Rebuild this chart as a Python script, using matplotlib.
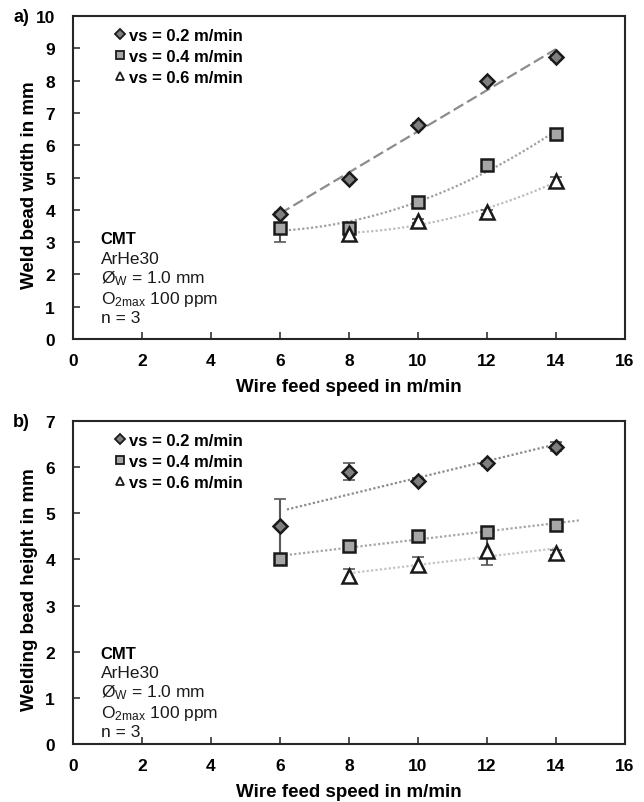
import numpy as np
import matplotlib.pyplot as plt
from matplotlib.lines import Line2D

# wire feed speed in m/min
wfs = [6, 8, 10, 12, 14]
wfs_06 = [8, 10, 12, 14]

# a) weld bead width in mm
width_02 = [3.87, 4.95, 6.63, 7.98, 8.72]
width_02_err = [0.05, 0.05, 0.05, 0.05, 0.08]
width_04 = [3.45, 3.45, 4.24, 5.39, 6.35]
width_04_err = [0.45, 0.05, 0.05, 0.05, 0.08]
width_06 = [3.25, 3.65, 3.93, 4.90]
width_06_err = [0.05, 0.05, 0.05, 0.12]

# b) welding bead height in mm
height_02 = [4.72, 5.90, 5.71, 6.08, 6.44]
height_02_err = [0.60, 0.18, 0.05, 0.05, 0.10]
height_04 = [4.01, 4.30, 4.51, 4.59, 4.75]
height_04_err = [0.05, 0.05, 0.05, 0.05, 0.05]
height_06 = [3.65, 3.89, 4.19, 4.15]
height_06_err = [0.15, 0.17, 0.30, 0.05]

labels = ['vs = 0.2 m/min', 'vs = 0.4 m/min', 'vs = 0.6 m/min']

plt.rcParams['font.family'] = ['Liberation Sans', 'DejaVu Sans']

fig = plt.figure(figsize=(6.44, 8.03), dpi=100)
ax1 = fig.add_axes([0.1134, 0.5766, 0.857, 0.4022])
ax2 = fig.add_axes([0.1134, 0.0722, 0.857, 0.4023])

styles = [
    dict(marker='D', ms=7.5, mfc='#7f7f7f', mec='#1a1a1a'),
    dict(marker='s', ms=9, mfc='#a6a6a6', mec='#1a1a1a'),
    dict(marker='^', ms=9.5, mfc='white', mec='#1a1a1a'),
]


def points(ax, x, y, err, st):
    ax.errorbar(x, y, yerr=err, fmt='none', ecolor='#595959', elinewidth=1.5,
                capsize=4, capthick=1.2, zorder=3)
    ax.plot(x, y, ls='none', mew=1.8, zorder=4, **st)


def trend(ax, x, y, deg, x0, x1, color, ls):
    c = np.polyfit(x, y, deg)
    xx = np.linspace(x0, x1, 100)
    ax.plot(xx, np.polyval(c, xx), color=color, ls=ls, lw=1.6, zorder=2)


# panel a
trend(ax1, wfs, width_02, 1, 6, 14, '#8c8c8c', (0, (5, 2)))
trend(ax1, wfs, width_04, 2, 6, 14, '#a0a0a0', (0, (1, 1)))
trend(ax1, wfs_06, width_06, 2, 8, 14, '#bdbdbd', (0, (1, 1)))
points(ax1, wfs, width_02, width_02_err, styles[0])
points(ax1, wfs, width_04, width_04_err, styles[1])
points(ax1, wfs_06, width_06, width_06_err, styles[2])

# panel b
trend(ax2, wfs, height_02, 1, 6.2, 14.2, '#8c8c8c', (0, (1, 1)))
trend(ax2, wfs, height_04, 1, 5.9, 14.7, '#a6a6a6', (0, (1, 1)))
trend(ax2, wfs_06, height_06, 1, 8, 14.1, '#c4c4c4', (0, (1, 1)))
points(ax2, wfs, height_02, height_02_err, styles[0])
points(ax2, wfs, height_04, height_04_err, styles[1])
points(ax2, wfs_06, height_06, height_06_err, styles[2])

ax1.set_ylim(0, 10)
ax1.set_yticks(range(0, 11))
ax2.set_ylim(0, 7)
ax2.set_yticks(range(0, 8))
ax1.set_ylabel('Weld bead width in mm', fontsize=13.5, fontweight='bold')
ax2.set_ylabel('Welding bead height in mm', fontsize=13.5, fontweight='bold')

for ax, tag, ytag in ((ax1, 'a)', 17), (ax2, 'b)', 423)):
    ax.set_xlim(0, 16)
    ax.set_xticks(range(0, 17, 2))
    ax.set_xlabel('Wire feed speed in m/min', fontsize=13.5, fontweight='bold', labelpad=7)
    ax.yaxis.set_label_coords(-0.063, 0.48)
    ax.tick_params(direction='in', length=5, width=1.2, color='#333333')
    ax.tick_params(axis='y', pad=13)
    ax.tick_params(axis='x', pad=10)
    for lab in ax.get_xticklabels() + ax.get_yticklabels():
        lab.set_fontweight('bold')
        lab.set_fontsize(12.5)
    for sp in ax.spines.values():
        sp.set_linewidth(1.5)
        sp.set_color('#262626')
    fig.text(13 / 644, 1 - ytag / 803, tag, fontsize=13, fontweight='bold',
             ha='left', va='center')

    handles = [Line2D([], [], ls='none', marker=st['marker'], ms=st['ms'] * 0.65,
                      mfc=st['mfc'], mec=st['mec'], mew=1.3) for st in styles]
    ax.legend(handles, labels, loc='upper left', bbox_to_anchor=(0.06, 0.995),
              frameon=False, prop=dict(size=12, weight='bold'),
              handlelength=0.5, handletextpad=0.3, labelspacing=0.38, borderaxespad=0.2)

    ax.text(0.05, 0.335 if ax is ax1 else 0.302, 'CMT', transform=ax.transAxes,
            fontsize=12, fontweight='bold', va='top')
    info = 'ArHe30\n$\\mathregular{Ø_W}$ = 1.0 mm\n$\\mathregular{O_{2max}}$ 100 ppm\nn = 3'
    ax.text(0.05, 0.272 if ax is ax1 else 0.244, info, transform=ax.transAxes,
            fontsize=12.5, va='top', linespacing=1.15, color='#1a1a1a')

fig.savefig('out.png', dpi=100)
